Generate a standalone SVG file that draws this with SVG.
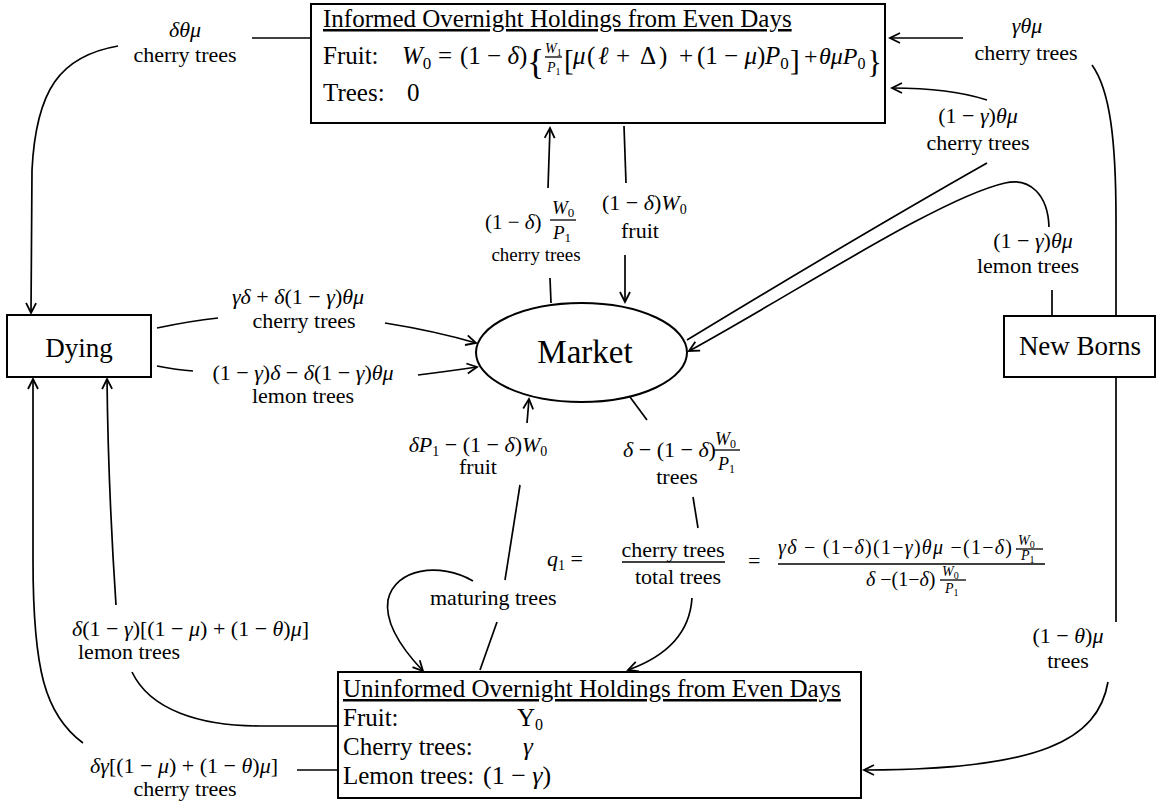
<svg xmlns="http://www.w3.org/2000/svg" width="1156" height="801" viewBox="0 0 1156 801">
<defs>
<marker id="ah" markerUnits="userSpaceOnUse" markerWidth="14" markerHeight="14" refX="11" refY="6" orient="auto">
<path d="M1,1 L11,6 L1,11" fill="none" stroke="#000" stroke-width="1.8"/>
</marker>
<style>
text{font-family:"Liberation Serif","Times New Roman",serif;fill:#000}
.box{fill:#fff;stroke:#000;stroke-width:2}
.c{fill:none;stroke:#000;stroke-width:1.7}
.a{fill:none;stroke:#000;stroke-width:1.7;marker-end:url(#ah)}
.bar{stroke:#000;stroke-width:1.3}
.lb{font-size:22px}
.lm{font-size:22px}
.mid{text-anchor:middle}
.i{font-style:italic}
.bt{font-size:25px}
.u{text-decoration:underline}
</style>
</defs>

<g id="connectors">
<path class="c" d="M252,38 L311,38"/>
<path class="a" d="M118,46 C60,56 36,90 32,170 L31,313"/>
<path class="a" d="M963,38 L890,38"/>
<path class="c" d="M1092,65 C1110,90 1116,140 1116,220 L1116,316"/>
<path class="a" d="M987,100 Q950,88 892,88"/>
<path class="c" d="M987,163 Q860,235 687,340"/>
<path class="c" d="M1052,290 L1052,316"/>
<path class="a" d="M1049,227 C1048,195 1030,177 1005,183 C940,198 800,290 689,351"/>
<path class="c" d="M550,278 L551,303"/>
<path class="a" d="M548,188 L550,128"/>
<path class="c" d="M624,126 L626,183"/>
<path class="a" d="M625,255 L625,302"/>
<path class="c" d="M157,328 Q190,321 218,318"/>
<path class="a" d="M385,323 Q435,331 476,343"/>
<path class="c" d="M157,366 Q177,370 193,371"/>
<path class="a" d="M418,375 Q450,371 477,367"/>
<path class="a" d="M527,423 L529,399"/>
<path class="c" d="M505,580 L520,485"/>
<path class="c" d="M480,670 L497,622"/>
<path class="c" d="M630,397 L647,420"/>
<path class="c" d="M693,497 L698,528"/>
<path class="a" d="M692,598 C690,630 670,655 628,670"/>
<path class="a" d="M473,581 C440,562 395,568 388,600 C384,625 405,652 423,671"/>
<path class="a" d="M116,605 C113,560 108,470 107,379"/>
<path class="c" d="M132,672 C150,710 200,726 260,726 L338,726"/>
<path class="c" d="M297,770 L338,770"/>
<path class="a" d="M83,743 C45,715 33,670 33,560 L33,379"/>
<path class="c" d="M1116,377 L1116,622"/>
<path class="a" d="M1108,682 C1098,740 1040,770 864,770"/>
</g>

<g id="node-informed">
<rect class="box" x="311" y="4" width="574" height="119"/>
<text class="bt u" x="323" y="27">Informed Overnight Holdings from Even Days</text>
<text class="bt" x="323" y="64">Fruit:</text>
<text class="bt" x="323" y="101">Trees:</text>
<text class="bt" x="407" y="101">0</text>
<text y="64" font-size="25"><tspan x="402" class="i">W</tspan><tspan font-size="17" dy="5">0</tspan><tspan x="438" dy="-5">=</tspan><tspan x="460">(1 − </tspan><tspan class="i">δ</tspan><tspan>)</tspan></text>
<text x="527" y="74" font-size="36">{</text>
<text x="545" y="53" font-size="14"><tspan class="i">W</tspan><tspan font-size="10" dy="3">1</tspan></text>
<line class="bar" x1="545" y1="57" x2="562" y2="57"/>
<text x="547" y="72" font-size="14"><tspan class="i">P</tspan><tspan font-size="10" dy="3">1</tspan></text>
<text x="564" y="70" font-size="29">[</text>
<text y="64" font-size="25"><tspan x="573" class="i">μ</tspan><tspan x="587">(</tspan><tspan x="598" class="i">ℓ</tspan><tspan x="616">+</tspan><tspan x="640">Δ</tspan><tspan x="659">)</tspan><tspan x="679">+</tspan><tspan x="697">(1 − </tspan><tspan class="i">μ</tspan><tspan>)</tspan><tspan x="765" class="i">P</tspan><tspan font-size="17" dy="5">0</tspan></text>
<text x="790" y="70" font-size="29">]</text>
<text y="64" font-size="24"><tspan x="804">+</tspan><tspan x="819" class="i">θμP</tspan><tspan font-size="16" dy="5">0</tspan></text>
<text x="867" y="73" font-size="31">}</text>
</g>

<g id="node-dying">
<rect class="box" x="7" y="315" width="144" height="62"/>
<text class="mid" x="79" y="357" font-size="27">Dying</text>
</g>

<g id="node-newborns">
<rect class="box" x="1004" y="316" width="151" height="61"/>
<text class="mid" x="1080" y="355" font-size="27">New Borns</text>
</g>

<g id="node-market">
<ellipse class="box" cx="581.5" cy="352.5" rx="105.5" ry="49.5"/>
<text class="mid" x="585" y="363" font-size="33">Market</text>
</g>

<g id="node-uninformed">
<rect class="box" x="338" y="672" width="523" height="126"/>
<text class="bt u" x="343" y="697">Uninformed Overnight Holdings from Even Days</text>
<text class="bt" x="343" y="726">Fruit:</text>
<text class="bt" x="517" y="726">Y<tspan font-size="16" dy="4">0</tspan></text>
<text class="bt" x="343" y="755">Cherry trees:</text>
<text class="bt i" x="523" y="755">γ</text>
<text class="bt" x="343" y="784">Lemon trees:</text>
<text x="483" y="784" font-size="26">(1 − <tspan class="i">γ</tspan>)</text>
</g>

<g id="labels">
<text class="lm mid i" x="185" y="37">δθμ</text>
<text class="lb mid" x="185" y="62">cherry trees</text>

<text class="lm mid i" x="1027" y="33">γθμ</text>
<text class="lb mid" x="1026" y="60">cherry trees</text>

<text class="lm mid" x="978" y="123">(1 − <tspan class="i">γ</tspan>)<tspan class="i">θμ</tspan></text>
<text class="lb mid" x="978" y="150">cherry trees</text>

<text class="lm mid" x="1033" y="248">(1 − <tspan class="i">γ</tspan>)<tspan class="i">θμ</tspan></text>
<text class="lb mid" x="1028" y="273">lemon trees</text>

<text x="485" y="229" font-size="21">(1 − <tspan class="i">δ</tspan>)</text>
<text x="552" y="214" font-size="19"><tspan class="i">W</tspan><tspan font-size="13" dy="3">0</tspan></text>
<line class="bar" x1="550" y1="220" x2="576" y2="220"/>
<text x="553" y="239" font-size="19"><tspan class="i">P</tspan><tspan font-size="13" dy="3">1</tspan></text>
<text class="mid" x="536" y="261" font-size="19">cherry trees</text>

<text class="lm" x="602" y="210">(1 − <tspan class="i">δ</tspan>)<tspan class="i">W</tspan><tspan font-size="14" dy="4">0</tspan></text>
<text class="lb mid" x="640" y="238">fruit</text>

<text class="lm mid" x="298" y="304"><tspan class="i">γδ</tspan> + <tspan class="i">δ</tspan>(1 − <tspan class="i">γ</tspan>)<tspan class="i">θμ</tspan></text>
<text class="lb mid" x="304" y="328">cherry trees</text>

<text class="lm mid" x="303" y="380">(1 − <tspan class="i">γ</tspan>)<tspan class="i">δ</tspan> − <tspan class="i">δ</tspan>(1 − <tspan class="i">γ</tspan>)<tspan class="i">θμ</tspan></text>
<text class="lb mid" x="303" y="403">lemon trees</text>

<text class="lm mid" x="478" y="452"><tspan class="i">δP</tspan><tspan font-size="14" dy="4">1</tspan><tspan dy="-4"> − (1 − </tspan><tspan class="i">δ</tspan>)<tspan class="i">W</tspan><tspan font-size="14" dy="4">0</tspan></text>
<text class="lb mid" x="478" y="474">fruit</text>

<text class="lm" x="623" y="457"><tspan class="i">δ</tspan> − (1 − <tspan class="i">δ</tspan>)</text>
<text x="715" y="445" font-size="18"><tspan class="i">W</tspan><tspan font-size="12" dy="3">0</tspan></text>
<line class="bar" x1="713" y1="450" x2="740" y2="450"/>
<text x="718" y="470" font-size="18"><tspan class="i">P</tspan><tspan font-size="12" dy="3">1</tspan></text>
<text class="lb mid" x="677" y="484">trees</text>

<text class="lm" x="547" y="566"><tspan class="i">q</tspan><tspan font-size="14" dy="4">1</tspan><tspan dy="-4"> =</tspan></text>
<text class="lb mid" x="673" y="557">cherry trees</text>
<line class="bar" x1="622" y1="562" x2="725" y2="562"/>
<text class="lb mid" x="678" y="584">total trees</text>
<text class="lm" x="748" y="568">=</text>

<text x="778" y="554" font-size="20" textLength="234" lengthAdjust="spacing"><tspan class="i">γδ</tspan> − (1−<tspan class="i">δ</tspan>)(1−<tspan class="i">γ</tspan>)<tspan class="i">θμ</tspan> −(1−<tspan class="i">δ</tspan>)</text>
<text x="1018" y="545" font-size="14"><tspan class="i">W</tspan><tspan font-size="10" dy="3">0</tspan></text>
<line class="bar" x1="1016" y1="549" x2="1043" y2="549"/>
<text x="1021" y="560" font-size="14"><tspan class="i">P</tspan><tspan font-size="10" dy="3">1</tspan></text>
<line x1="778" y1="564" x2="1045" y2="564" stroke="#000" stroke-width="1.6"/>
<text x="866" y="586" font-size="20"><tspan class="i">δ</tspan> −(1−<tspan class="i">δ</tspan>)</text>
<text x="942" y="576" font-size="14"><tspan class="i">W</tspan><tspan font-size="10" dy="3">0</tspan></text>
<line class="bar" x1="940" y1="580" x2="966" y2="580"/>
<text x="945" y="593" font-size="14"><tspan class="i">P</tspan><tspan font-size="10" dy="3">1</tspan></text>

<text class="lb" x="430" y="605">maturing trees</text>

<text class="lm" x="72" y="636"><tspan class="i">δ</tspan>(1 − <tspan class="i">γ</tspan>)[(1 − <tspan class="i">μ</tspan>) + (1 − <tspan class="i">θ</tspan>)<tspan class="i">μ</tspan>]</text>
<text class="lb" x="78" y="659">lemon trees</text>

<text class="lm" x="90" y="773"><tspan class="i">δγ</tspan>[(1 − <tspan class="i">μ</tspan>) + (1 − <tspan class="i">θ</tspan>)<tspan class="i">μ</tspan>]</text>
<text class="lb mid" x="185" y="796">cherry trees</text>

<text class="lm mid" x="1068" y="643">(1 − <tspan class="i">θ</tspan>)<tspan class="i">μ</tspan></text>
<text class="lb mid" x="1068" y="668">trees</text>
</g>
</svg>
